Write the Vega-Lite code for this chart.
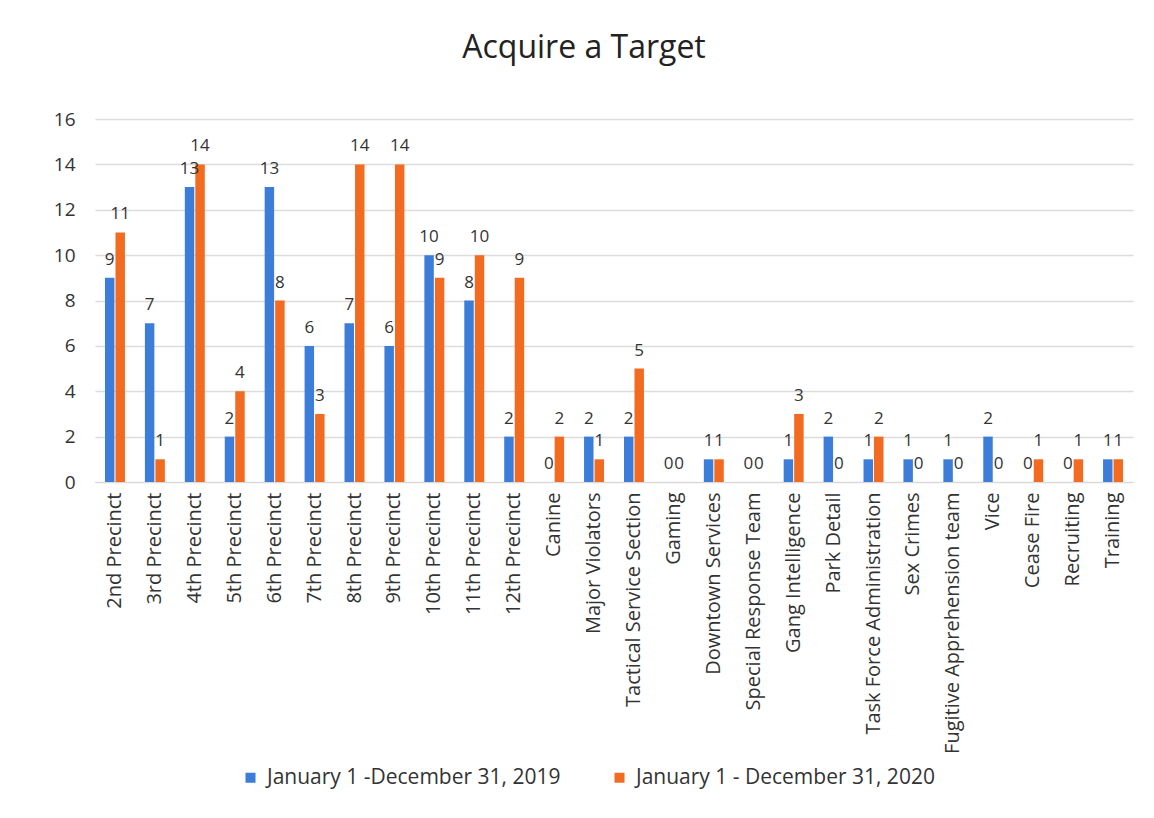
{
  "$schema": "https://vega.github.io/schema/vega-lite/v6.json",
  "width": 1038,
  "height": 363,
  "autosize": {"type": "none"},
  "padding": {"left": 95, "top": 119, "right": 21, "bottom": 336},
  "background": "white",
  "config": {
    "font": "Open Sans",
    "view": {"stroke": null},
    "axis": {"labelColor": "#333333", "labelFont": "Open Sans"}
  },
  "title": {
    "text": "Acquire a Target",
    "fontSize": 32,
    "fontWeight": "normal",
    "color": "#222222",
    "font": "Open Sans",
    "anchor": "middle",
    "dx": -30,
    "offset": 45
  },
  "data": {
    "values": [
      {"unit": "2nd Precinct", "period": "January 1 -December 31, 2019", "count": 9},
      {"unit": "2nd Precinct", "period": "January 1 - December 31, 2020", "count": 11},
      {"unit": "3rd Precinct", "period": "January 1 -December 31, 2019", "count": 7},
      {"unit": "3rd Precinct", "period": "January 1 - December 31, 2020", "count": 1},
      {"unit": "4th Precinct", "period": "January 1 -December 31, 2019", "count": 13},
      {"unit": "4th Precinct", "period": "January 1 - December 31, 2020", "count": 14},
      {"unit": "5th Precinct", "period": "January 1 -December 31, 2019", "count": 2},
      {"unit": "5th Precinct", "period": "January 1 - December 31, 2020", "count": 4},
      {"unit": "6th Precinct", "period": "January 1 -December 31, 2019", "count": 13},
      {"unit": "6th Precinct", "period": "January 1 - December 31, 2020", "count": 8},
      {"unit": "7th Precinct", "period": "January 1 -December 31, 2019", "count": 6},
      {"unit": "7th Precinct", "period": "January 1 - December 31, 2020", "count": 3},
      {"unit": "8th Precinct", "period": "January 1 -December 31, 2019", "count": 7},
      {"unit": "8th Precinct", "period": "January 1 - December 31, 2020", "count": 14},
      {"unit": "9th Precinct", "period": "January 1 -December 31, 2019", "count": 6},
      {"unit": "9th Precinct", "period": "January 1 - December 31, 2020", "count": 14},
      {"unit": "10th Precinct", "period": "January 1 -December 31, 2019", "count": 10},
      {"unit": "10th Precinct", "period": "January 1 - December 31, 2020", "count": 9},
      {"unit": "11th Precinct", "period": "January 1 -December 31, 2019", "count": 8},
      {"unit": "11th Precinct", "period": "January 1 - December 31, 2020", "count": 10},
      {"unit": "12th Precinct", "period": "January 1 -December 31, 2019", "count": 2},
      {"unit": "12th Precinct", "period": "January 1 - December 31, 2020", "count": 9},
      {"unit": "Canine", "period": "January 1 -December 31, 2019", "count": 0},
      {"unit": "Canine", "period": "January 1 - December 31, 2020", "count": 2},
      {"unit": "Major Violators", "period": "January 1 -December 31, 2019", "count": 2},
      {"unit": "Major Violators", "period": "January 1 - December 31, 2020", "count": 1},
      {"unit": "Tactical Service Section", "period": "January 1 -December 31, 2019", "count": 2},
      {"unit": "Tactical Service Section", "period": "January 1 - December 31, 2020", "count": 5},
      {"unit": "Gaming", "period": "January 1 -December 31, 2019", "count": 0},
      {"unit": "Gaming", "period": "January 1 - December 31, 2020", "count": 0},
      {"unit": "Downtown Services", "period": "January 1 -December 31, 2019", "count": 1},
      {"unit": "Downtown Services", "period": "January 1 - December 31, 2020", "count": 1},
      {"unit": "Special Response Team", "period": "January 1 -December 31, 2019", "count": 0},
      {"unit": "Special Response Team", "period": "January 1 - December 31, 2020", "count": 0},
      {"unit": "Gang Intelligence", "period": "January 1 -December 31, 2019", "count": 1},
      {"unit": "Gang Intelligence", "period": "January 1 - December 31, 2020", "count": 3},
      {"unit": "Park Detail", "period": "January 1 -December 31, 2019", "count": 2},
      {"unit": "Park Detail", "period": "January 1 - December 31, 2020", "count": 0},
      {"unit": "Task Force Administration", "period": "January 1 -December 31, 2019", "count": 1},
      {"unit": "Task Force Administration", "period": "January 1 - December 31, 2020", "count": 2},
      {"unit": "Sex Crimes", "period": "January 1 -December 31, 2019", "count": 1},
      {"unit": "Sex Crimes", "period": "January 1 - December 31, 2020", "count": 0},
      {"unit": "Fugitive Apprehension team", "period": "January 1 -December 31, 2019", "count": 1},
      {"unit": "Fugitive Apprehension team", "period": "January 1 - December 31, 2020", "count": 0},
      {"unit": "Vice", "period": "January 1 -December 31, 2019", "count": 2},
      {"unit": "Vice", "period": "January 1 - December 31, 2020", "count": 0},
      {"unit": "Cease Fire", "period": "January 1 -December 31, 2019", "count": 0},
      {"unit": "Cease Fire", "period": "January 1 - December 31, 2020", "count": 1},
      {"unit": "Recruiting", "period": "January 1 -December 31, 2019", "count": 0},
      {"unit": "Recruiting", "period": "January 1 - December 31, 2020", "count": 1},
      {"unit": "Training", "period": "January 1 -December 31, 2019", "count": 1},
      {"unit": "Training", "period": "January 1 - December 31, 2020", "count": 1}
    ]
  },
  "encoding": {
    "x": {
      "field": "unit",
      "type": "nominal",
      "sort": null,
      "title": null,
      "scale": {"paddingInner": 0.5, "paddingOuter": 0.25},
      "axis": {
        "labelAngle": -90,
        "labelFontSize": 20,
        "labelPadding": 10,
        "ticks": false,
        "domain": true,
        "domainColor": "#d9d9d9",
        "labelLimit": 300
      }
    },
    "xOffset": {
      "field": "period",
      "type": "nominal",
      "sort": null,
      "scale": {"paddingInner": 0.1}
    },
    "y": {
      "field": "count",
      "type": "quantitative",
      "title": null,
      "scale": {"domain": [0, 16]},
      "axis": {
        "values": [0, 2, 4, 6, 8, 10, 12, 14, 16],
        "labelFontSize": 19,
        "labelPadding": 20,
        "ticks": false,
        "domain": false,
        "gridColor": "#dcdcdc",
        "gridWidth": 1.5
      }
    },
    "color": {
      "field": "period",
      "type": "nominal",
      "sort": null,
      "scale": {"range": ["#3b7dd8", "#f26b21"]},
      "legend": {
        "title": null,
        "orient": "none",
        "direction": "horizontal",
        "legendX": 145,
        "legendY": 648,
        "symbolType": "square",
        "symbolSize": 100,
        "symbolStrokeWidth": 0,
        "labelFontSize": 21,
        "labelColor": "#333333",
        "columnPadding": 48,
        "labelOffset": 6,
        "labelLimit": 400
      }
    }
  },
  "layer": [
    {"mark": {"type": "bar"}},
    {
      "mark": {"type": "text", "baseline": "bottom", "dy": -9, "fontSize": 17, "color": "#333333"},
      "encoding": {"text": {"field": "count", "type": "quantitative"}, "color": {"value": "#333333"}}
    }
  ]
}
